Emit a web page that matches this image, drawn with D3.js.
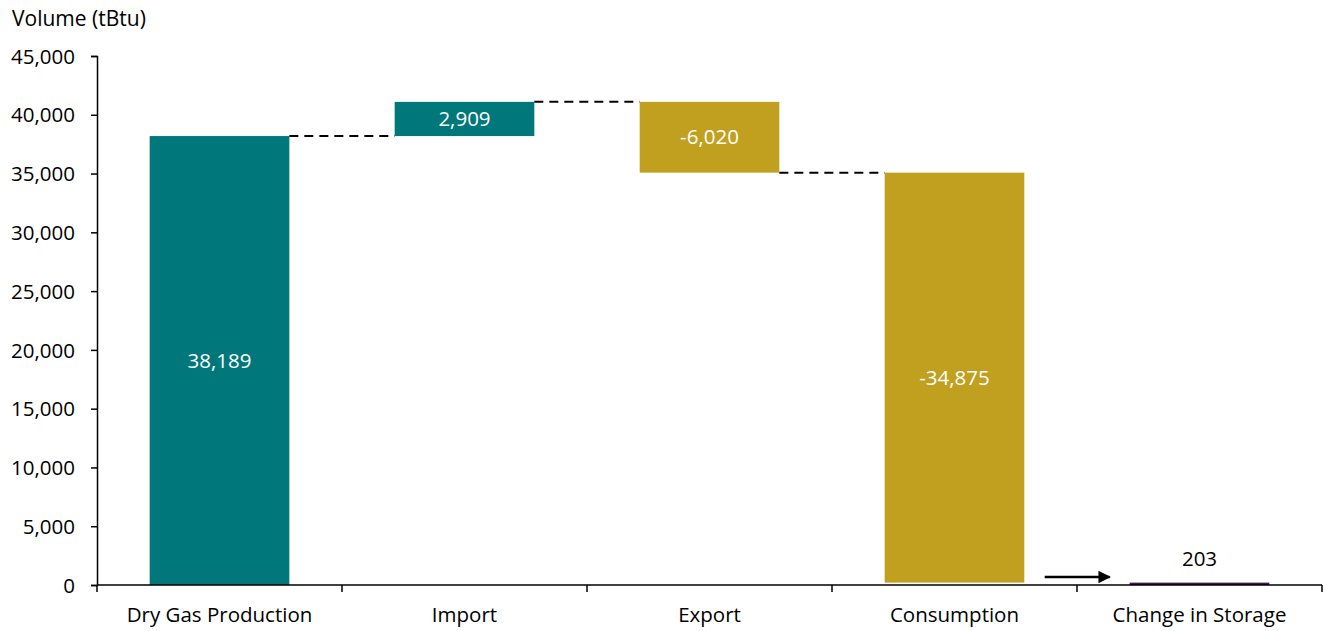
<!DOCTYPE html>
<html><head><meta charset="utf-8">
<script src="https://cdn.jsdelivr.net/npm/d3@7"></script>
<style>body{margin:0;background:#fff}text{font-family:"Open Sans","Noto Sans",sans-serif}</style>
</head><body><svg id="c" width="1325" height="631"></svg>
<script>
const categories = ["Dry Gas Production","Import","Export","Consumption","Change in Storage"];
const values = [38189, 2909, -6020, -34875, 203];
const labels = ["38,189","2,909","-6,020","-34,875","203"];
const yTicks = [0,5000,10000,15000,20000,25000,30000,35000,40000,45000];
const yTitle = "Volume (tBtu)";

const svg = d3.select("#c");
const x0 = 97, x1 = 1322, yTop = 56, yBot = 585;
const x = d3.scaleBand().domain(categories).range([x0,x1]).paddingInner(0.43).paddingOuter(0.215);
const y = d3.scaleLinear().domain([0,45000]).range([yBot,yTop]);

const teal = "#00777B", gold = "#C2A01F", storage = "#3A1F45";
const fs = 20.5;

let run = 0;
const segs = categories.map((c,i)=>{
  let s, e;
  if (i===0){ s=0; e=values[0]; run=e; }
  else if (i===categories.length-1){ s=0; e=values[i]; }
  else { s=run; e=run+values[i]; run=e; }
  return {c, s, e, v:values[i], label:labels[i], i};
});

svg.selectAll("rect.bar").data(segs).join("rect")
  .attr("x", d=>x(d.c)).attr("width", x.bandwidth())
  .attr("y", d=>y(Math.max(d.s,d.e))).attr("height", d=>Math.max(2, Math.abs(y(d.s)-y(d.e))))
  .attr("fill", d=> d.i===categories.length-1 ? storage : (d.v>=0? teal : gold));

for (let i=0;i<3;i++){
  const a = segs[i], b = segs[i+1];
  svg.append("line").attr("x1", x(a.c)+x.bandwidth()).attr("x2", x(b.c))
    .attr("y1", y(a.e)).attr("y2", y(a.e))
    .attr("stroke","#000").attr("stroke-width",2).attr("stroke-dasharray","9,6");
}

segs.forEach(d=>{
  const last = d.i===categories.length-1;
  svg.append("text").attr("x", x(d.c)+x.bandwidth()/2)
    .attr("y", last ? y(d.e)-17 : y((d.s+d.e)/2)+7)
    .attr("text-anchor","middle").attr("font-size",fs)
    .attr("fill", last ? "#000" : "#fff").text(d.label);
});

const yAxis = d3.axisLeft(y).tickValues(yTicks).tickFormat(d3.format(",")).tickSize(6).tickSizeOuter(6);
const gy = svg.append("g").attr("transform",`translate(${x0},0)`).call(yAxis);
gy.selectAll("text").attr("font-size",fs).attr("fill","#000").attr("x",-22).attr("dy","0.35em");
gy.selectAll("path,line").attr("stroke","#000").attr("stroke-width",1.5);

const gx = svg.append("g").attr("transform",`translate(0,${yBot})`);
gx.append("line").attr("x1",x0).attr("x2",x1).attr("stroke","#000").attr("stroke-width",1.5);
const bounds = d3.range(categories.length+1).map(i=> x0 + i*x.step());
gx.selectAll("line.t").data(bounds).join("line").attr("class","t")
  .attr("x1",d=>d).attr("x2",d=>d).attr("y1",0).attr("y2",7).attr("stroke","#000").attr("stroke-width",1.5);
gx.selectAll("text").data(categories).join("text")
  .attr("x", d=>x(d)+x.bandwidth()/2).attr("y",37).attr("text-anchor","middle")
  .attr("font-size",fs).attr("fill","#000").text(d=>d);

svg.append("text").attr("x",12).attr("y",26).attr("font-size",fs+0.5).attr("fill","#000").text(yTitle);

const defs = svg.append("defs");
defs.append("marker").attr("id","ah").attr("viewBox","0 0 10 10").attr("refX",9).attr("refY",5)
  .attr("markerWidth",5).attr("markerHeight",5).attr("orient","auto")
  .append("path").attr("d","M0,0L10,5L0,10z").attr("fill","#000");
const ax = x(categories[4]);
svg.append("line").attr("x1", ax-85).attr("x2", ax-20).attr("y1", yBot-8).attr("y2", yBot-8)
  .attr("stroke","#000").attr("stroke-width",2.5).attr("marker-end","url(#ah)");
</script></body></html>
